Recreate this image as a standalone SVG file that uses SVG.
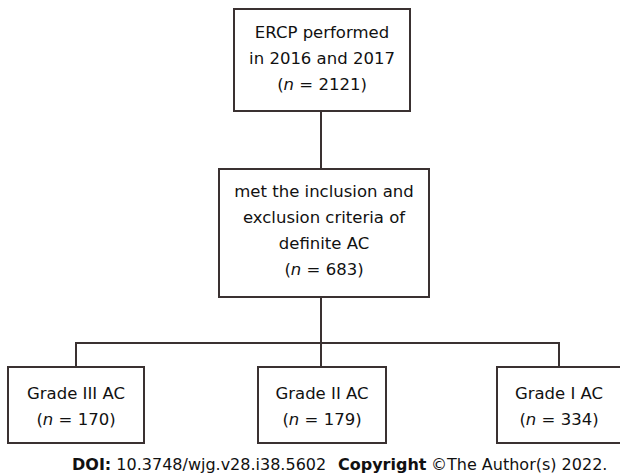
<svg xmlns="http://www.w3.org/2000/svg" width="620" height="475" viewBox="0 0 620 475">
<style>
.box{fill:#fff;stroke:#3a3131;stroke-width:2}
.ln{fill:none;stroke:#3a3131;stroke-width:2}
text{font-family:"DejaVu Sans","Liberation Sans",sans-serif;font-size:16.5px;fill:#111;text-anchor:middle}
.i{font-style:italic}
.ft{text-anchor:start;font-size:16px}
.b{font-weight:bold}
</style>
<rect width="620" height="475" fill="#fff"/>
<g id="connectors">
<path class="ln" d="M321 111V169"/>
<path class="ln" d="M321 297V367"/>
<path class="ln" d="M76 367V343H559V367"/>
</g>
<g id="n1">
<rect class="box" x="234" y="9" width="176" height="102"/>
<text x="322" y="38">ERCP performed</text>
<text x="322" y="64">in 2016 and 2017</text>
<text x="322" y="90">(<tspan class="i">n</tspan> = 2121)</text>
</g>
<g id="n2">
<rect class="box" x="219" y="169" width="210" height="128"/>
<text x="324" y="197">met the inclusion and</text>
<text x="324" y="223">exclusion criteria of</text>
<text x="324" y="249">definite AC</text>
<text x="324" y="275">(<tspan class="i">n</tspan> = 683)</text>
</g>
<g id="n3">
<rect class="box" x="8" y="367" width="136" height="76"/>
<text x="76" y="399">Grade III AC</text>
<text x="76" y="425">(<tspan class="i">n</tspan> = 170)</text>
</g>
<g id="n4">
<rect class="box" x="258" y="367" width="128" height="76"/>
<text x="322" y="399">Grade II AC</text>
<text x="322" y="425">(<tspan class="i">n</tspan> = 179)</text>
</g>
<g id="n5">
<rect class="box" x="497" y="367" width="125" height="76"/>
<text x="559" y="399">Grade I AC</text>
<text x="559" y="425">(<tspan class="i">n</tspan> = 334)</text>
</g>
<g id="footer">
<text class="ft" x="72" y="470"><tspan class="b">DOI:</tspan> 10.3748/wjg.v28.i38.5602<tspan class="b" x="338">Copyright</tspan><tspan x="431">©The Author(s) 2022.</tspan></text>
</g>
</svg>
